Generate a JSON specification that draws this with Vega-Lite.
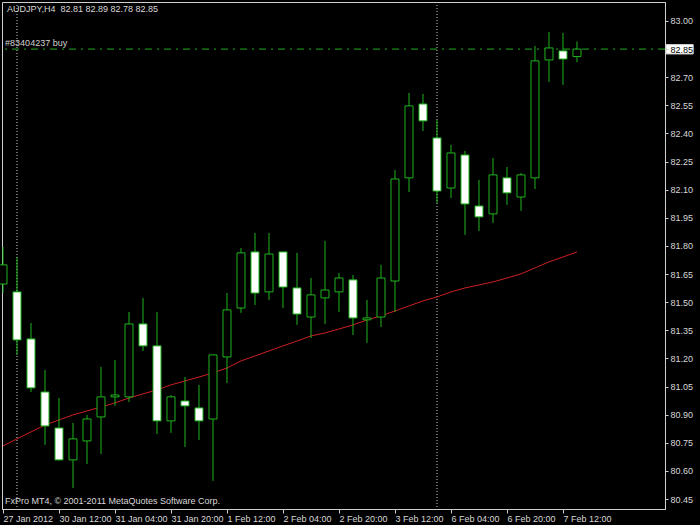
{
  "$schema": "https://vega.github.io/schema/vega-lite/v6.json",
  "autosize": "none",
  "width": 663,
  "height": 507,
  "padding": {"left": 2, "top": 2, "right": 35, "bottom": 16},
  "background": "#000000",
  "config": {
    "view": {"fill": "#000000", "stroke": "#d0d0d0", "strokeWidth": 1},
    "font": "Liberation Sans",
    "text": {"font": "Liberation Sans", "fontSize": 9, "color": "#d8d8d8"},
    "axis": {"labelFont": "Liberation Sans", "labelFontSize": 9, "labelColor": "#d8d8d8", "domainColor": "#d0d0d0", "tickColor": "#d0d0d0", "grid": false, "title": null, "labelOverlap": false, "labelLimit": 0}
  },
  "datasets": {
    "bars": [
      {"i": 0, "t": "27 Jan 20:00", "open": 81.597, "high": 81.795, "low": 81.549, "close": 81.699, "ma": 80.733},
      {"i": 1, "t": "30 Jan 00:00", "open": 81.555, "high": 81.741, "low": 81.219, "close": 81.299, "ma": 80.771},
      {"i": 2, "t": "30 Jan 04:00", "open": 81.304, "high": 81.389, "low": 81.021, "close": 81.043, "ma": 80.808},
      {"i": 3, "t": "30 Jan 08:00", "open": 81.021, "high": 81.139, "low": 80.739, "close": 80.840, "ma": 80.845},
      {"i": 4, "t": "30 Jan 12:00", "open": 80.829, "high": 80.989, "low": 80.655, "close": 80.659, "ma": 80.872},
      {"i": 5, "t": "30 Jan 16:00", "open": 80.659, "high": 80.856, "low": 80.509, "close": 80.771, "ma": 80.899},
      {"i": 6, "t": "30 Jan 20:00", "open": 80.760, "high": 80.899, "low": 80.637, "close": 80.877, "ma": 80.920},
      {"i": 7, "t": "31 Jan 00:00", "open": 80.888, "high": 81.155, "low": 80.691, "close": 80.995, "ma": 80.941},
      {"i": 8, "t": "31 Jan 04:00", "open": 80.995, "high": 81.192, "low": 80.947, "close": 81.005, "ma": 80.963},
      {"i": 9, "t": "31 Jan 08:00", "open": 80.995, "high": 81.448, "low": 80.968, "close": 81.384, "ma": 80.989},
      {"i": 10, "t": "31 Jan 12:00", "open": 81.384, "high": 81.523, "low": 81.240, "close": 81.267, "ma": 81.011},
      {"i": 11, "t": "31 Jan 16:00", "open": 81.267, "high": 81.448, "low": 80.797, "close": 80.867, "ma": 81.032},
      {"i": 12, "t": "31 Jan 20:00", "open": 80.867, "high": 81.005, "low": 80.803, "close": 80.995, "ma": 81.059},
      {"i": 13, "t": "1 Feb 00:00", "open": 80.973, "high": 81.101, "low": 80.728, "close": 80.947, "ma": 81.080},
      {"i": 14, "t": "1 Feb 04:00", "open": 80.936, "high": 81.059, "low": 80.765, "close": 80.867, "ma": 81.101},
      {"i": 15, "t": "1 Feb 08:00", "open": 80.877, "high": 81.219, "low": 80.547, "close": 81.219, "ma": 81.123},
      {"i": 16, "t": "1 Feb 12:00", "open": 81.208, "high": 81.549, "low": 81.069, "close": 81.459, "ma": 81.149},
      {"i": 17, "t": "1 Feb 16:00", "open": 81.469, "high": 81.789, "low": 81.443, "close": 81.763, "ma": 81.187},
      {"i": 18, "t": "1 Feb 20:00", "open": 81.768, "high": 81.869, "low": 81.485, "close": 81.549, "ma": 81.213},
      {"i": 19, "t": "2 Feb 00:00", "open": 81.555, "high": 81.869, "low": 81.512, "close": 81.757, "ma": 81.240},
      {"i": 20, "t": "2 Feb 04:00", "open": 81.768, "high": 81.768, "low": 81.469, "close": 81.581, "ma": 81.267},
      {"i": 21, "t": "2 Feb 08:00", "open": 81.576, "high": 81.763, "low": 81.379, "close": 81.437, "ma": 81.293},
      {"i": 22, "t": "2 Feb 12:00", "open": 81.421, "high": 81.629, "low": 81.309, "close": 81.539, "ma": 81.320},
      {"i": 23, "t": "2 Feb 16:00", "open": 81.523, "high": 81.827, "low": 81.384, "close": 81.565, "ma": 81.336},
      {"i": 24, "t": "2 Feb 20:00", "open": 81.555, "high": 81.656, "low": 81.448, "close": 81.629, "ma": 81.357},
      {"i": 25, "t": "3 Feb 00:00", "open": 81.619, "high": 81.645, "low": 81.325, "close": 81.416, "ma": 81.379},
      {"i": 26, "t": "3 Feb 04:00", "open": 81.406, "high": 81.512, "low": 81.283, "close": 81.416, "ma": 81.405},
      {"i": 27, "t": "3 Feb 08:00", "open": 81.421, "high": 81.699, "low": 81.368, "close": 81.629, "ma": 81.427},
      {"i": 28, "t": "3 Feb 12:00", "open": 81.613, "high": 82.205, "low": 81.448, "close": 82.157, "ma": 81.453},
      {"i": 29, "t": "3 Feb 16:00", "open": 82.163, "high": 82.616, "low": 82.088, "close": 82.547, "ma": 81.480},
      {"i": 30, "t": "3 Feb 20:00", "open": 82.557, "high": 82.611, "low": 82.413, "close": 82.467, "ma": 81.507},
      {"i": 31, "t": "6 Feb 00:00", "open": 82.376, "high": 82.472, "low": 82.029, "close": 82.093, "ma": 81.528},
      {"i": 32, "t": "6 Feb 04:00", "open": 82.109, "high": 82.339, "low": 82.056, "close": 82.296, "ma": 81.555},
      {"i": 33, "t": "6 Feb 08:00", "open": 82.285, "high": 82.307, "low": 81.859, "close": 82.024, "ma": 81.576},
      {"i": 34, "t": "6 Feb 12:00", "open": 82.013, "high": 82.152, "low": 81.880, "close": 81.955, "ma": 81.592},
      {"i": 35, "t": "6 Feb 16:00", "open": 81.971, "high": 82.269, "low": 81.923, "close": 82.179, "ma": 81.608},
      {"i": 36, "t": "6 Feb 20:00", "open": 82.163, "high": 82.221, "low": 82.019, "close": 82.083, "ma": 81.629},
      {"i": 37, "t": "7 Feb 00:00", "open": 82.061, "high": 82.189, "low": 81.987, "close": 82.179, "ma": 81.651},
      {"i": 38, "t": "7 Feb 04:00", "open": 82.163, "high": 82.867, "low": 82.104, "close": 82.787, "ma": 81.683},
      {"i": 39, "t": "7 Feb 08:00", "open": 82.792, "high": 82.941, "low": 82.675, "close": 82.856, "ma": 81.715},
      {"i": 40, "t": "7 Feb 12:00", "open": 82.840, "high": 82.936, "low": 82.659, "close": 82.797, "ma": 81.741},
      {"i": 41, "t": "7 Feb 16:00", "open": 82.81, "high": 82.89, "low": 82.78, "close": 82.85, "ma": 81.768}
    ],
    "separators": [{"i": 1}, {"i": 31}],
    "orders": [{"level": 82.85, "label": "#83404237 buy"}]
  },
  "layer": [
    {
      "data": {"name": "separators"},
      "mark": {"type": "rule", "color": "#cccccc", "strokeWidth": 1, "strokeDash": [1, 2]},
      "encoding": {
        "x": {"field": "i", "type": "quantitative", "scale": {"domain": [-0.0714, 47.286], "nice": false, "zero": false, "padding": 0},
          "axis": {"orient": "bottom", "values": [0, 4, 8, 12, 16, 20, 24, 28, 32, 36, 40], "tickCount": 30, "labelExpr": "['27 Jan 2012','30 Jan 12:00','31 Jan 04:00','31 Jan 20:00','1 Feb 12:00','2 Feb 04:00','2 Feb 20:00','3 Feb 12:00','6 Feb 04:00','6 Feb 20:00','7 Feb 12:00'][round(datum.value/4)]", "labelAlign": "left", "labelBaseline": "top", "labelPadding": 1, "tickSize": 4, "labelFlush": false, "labelOverlap": false}}
      }
    },
    {
      "data": {"name": "orders"},
      "mark": {"type": "rule", "color": "#22aa22", "strokeWidth": 1, "strokeDash": [7, 5, 2, 5]},
      "encoding": {
        "y": {"field": "level", "type": "quantitative", "scale": {"domain": [80.397, 83.101], "nice": false, "zero": false, "padding": 0},
          "axis": {"orient": "right", "values": [80.45, 80.6, 80.75, 80.9, 81.05, 81.2, 81.35, 81.5, 81.65, 81.8, 81.95, 82.1, 82.25, 82.4, 82.55, 82.7, 82.85, 83.0], "tickCount": 40, "format": ".2f", "tickSize": 3, "labelPadding": 2, "labelAlign": "left", "labelBaseline": "middle", "labelOverlap": false, "labelFlush": false, "labelLimit": 0, "zindex": 2,
            "labelColor": {"condition": {"test": "abs(datum.value - 82.85) < 0.001", "value": "#000000"}, "value": "#d8d8d8"}}}
      }
    },
    {
      "data": {"name": "orders"},
      "mark": {"type": "text", "align": "left", "baseline": "alphabetic", "dy": -3, "color": "#d0d0d0"},
      "encoding": {
        "x": {"datum": 0.15, "type": "quantitative"},
        "y": {"field": "level", "type": "quantitative"},
        "text": {"field": "label"}
      }
    },
    {
      "data": {"name": "bars"},
      "mark": {"type": "line", "color": "#cc2020", "strokeWidth": 1},
      "encoding": {
        "x": {"field": "i", "type": "quantitative"},
        "y": {"field": "ma", "type": "quantitative"}
      }
    },
    {
      "data": {"name": "bars"},
      "mark": {"type": "rule", "color": "#1eb41e", "strokeWidth": 1},
      "encoding": {
        "x": {"field": "i", "type": "quantitative"},
        "y": {"field": "low", "type": "quantitative"},
        "y2": {"field": "high"}
      }
    },
    {
      "data": {"name": "bars"},
      "mark": {"type": "bar", "width": 8, "stroke": "#1eb41e", "strokeWidth": 1},
      "encoding": {
        "x": {"field": "i", "type": "quantitative"},
        "y": {"field": "open", "type": "quantitative"},
        "y2": {"field": "close"},
        "fill": {"condition": {"test": "datum.close >= datum.open", "value": "#000000"}, "value": "#ffffff"}
      }
    },
    {
      "data": {"name": "orders"},
      "mark": {"type": "rect", "fill": "#ffffff", "stroke": "#d0d0d0", "strokeWidth": 1, "clip": false},
      "encoding": {
        "x": {"datum": 47.36, "type": "quantitative"},
        "x2": {"datum": 49.3},
        "y": {"datum": 82.874, "type": "quantitative"},
        "y2": {"datum": 82.824}
      }
    },
    {
      "data": {"values": [{"txt": "AUDJPY,H4\u00a0 82.81 82.89 82.78 82.85"}]},
      "mark": {"type": "text", "align": "left", "baseline": "alphabetic", "color": "#d8d8d8"},
      "encoding": {
        "x": {"datum": 0.29, "type": "quantitative"},
        "y": {"datum": 83.048, "type": "quantitative"},
        "text": {"field": "txt"}
      }
    },
    {
      "data": {"values": [{"txt": "FxPro MT4, © 2001-2011 MetaQuotes Software Corp."}]},
      "mark": {"type": "text", "align": "left", "baseline": "alphabetic", "color": "#d8d8d8"},
      "encoding": {
        "x": {"datum": 0.14, "type": "quantitative"},
        "y": {"datum": 80.424, "type": "quantitative"},
        "text": {"field": "txt"}
      }
    }
  ]
}
